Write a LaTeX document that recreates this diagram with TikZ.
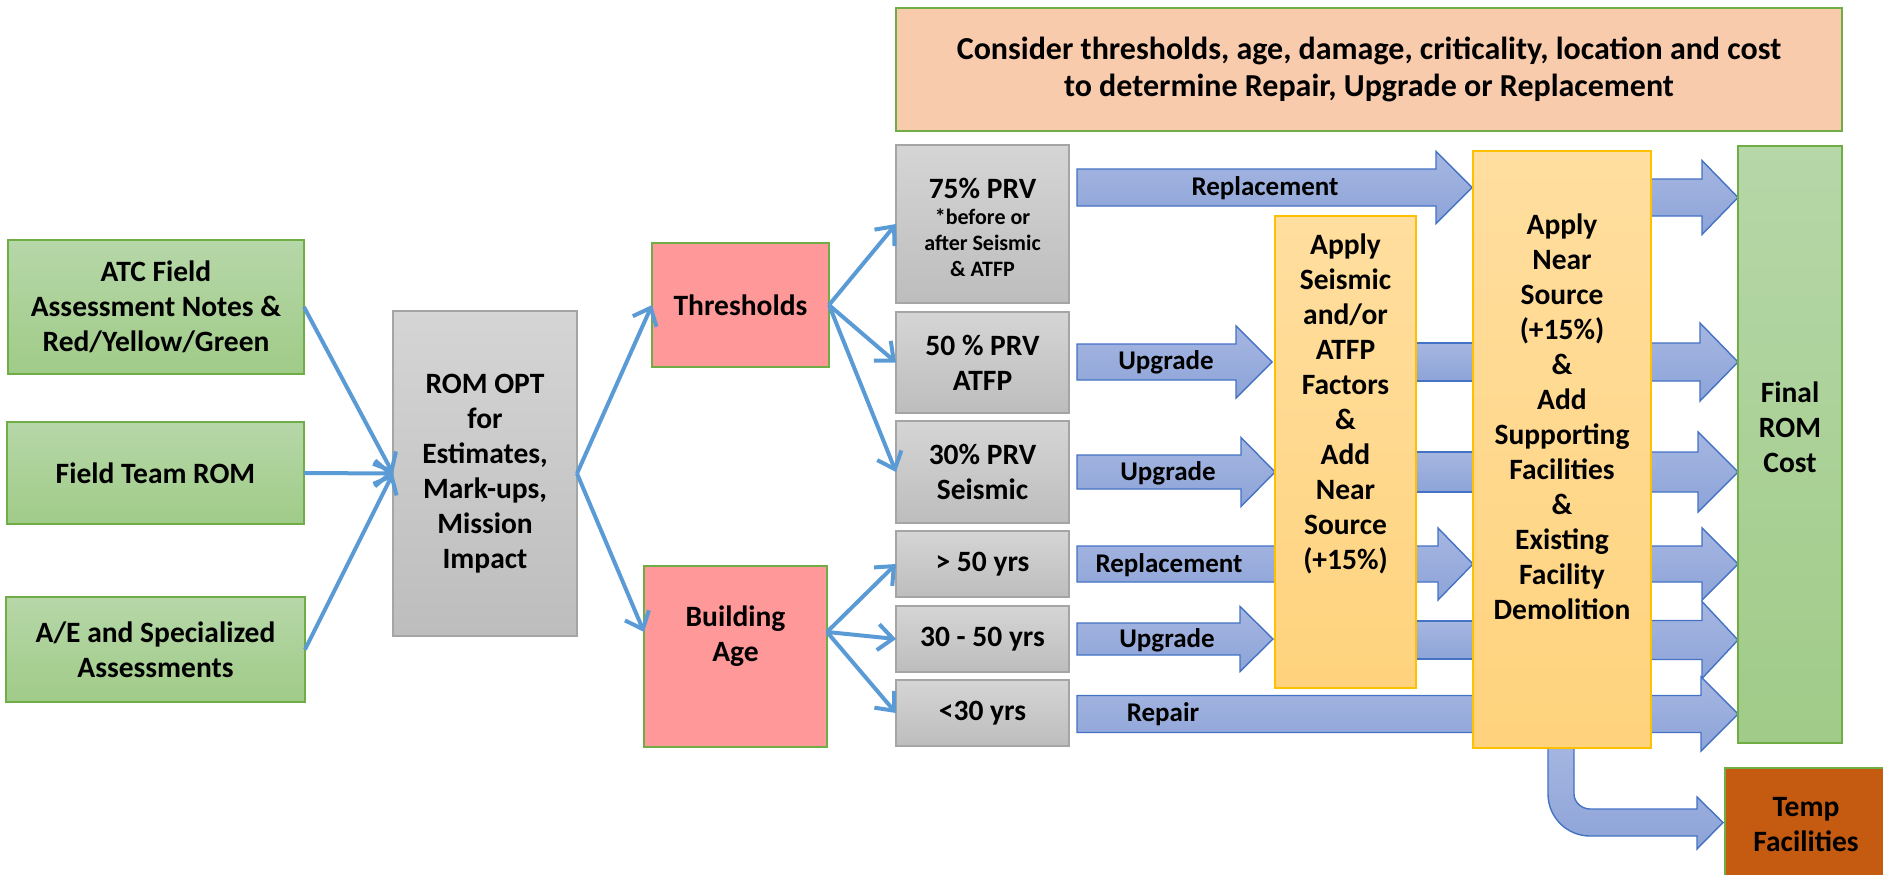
\documentclass[tikz,border=0pt]{standalone}
\usepackage{fontspec}
\setmainfont{Carlito}
\usetikzlibrary{arrows.meta}
\definecolor{gborder}{HTML}{70AD47}
\definecolor{gtop}{HTML}{B6D7A8}
\definecolor{gbot}{HTML}{A0CB88}
\definecolor{greyborder}{HTML}{A5A5A5}
\definecolor{greytop}{HTML}{D5D5D5}
\definecolor{greybot}{HTML}{BDBDBD}
\definecolor{redfill}{HTML}{FF9999}
\definecolor{oborder}{HTML}{FFC000}
\definecolor{otop}{HTML}{FFDE9F}
\definecolor{obot}{HTML}{FFD37D}
\definecolor{bannerfill}{HTML}{F8CBAD}
\definecolor{tempfill}{HTML}{C55A11}
\definecolor{linkblue}{HTML}{5B9BD5}
\definecolor{barborder}{HTML}{4472C4}
\definecolor{bartop}{HTML}{A6B6E1}
\definecolor{barbot}{HTML}{8DA4D8}
\tikzset{
  box/.style={rectangle, inner sep=0pt, outer sep=0pt, line width=1.5pt, align=center, font=\bfseries\fontsize{29.5}{35}\selectfont},
  greenbox/.style={box, draw=gborder, top color=gtop, bottom color=gbot},
  greybox/.style={box, draw=greyborder, top color=greytop, bottom color=greybot},
  redbox/.style={box, draw=gborder, fill=redfill},
  orangebox/.style={box, draw=oborder, top color=otop, bottom color=obot},
  bannerbox/.style={box, draw=gborder, fill=bannerfill, font=\bfseries\fontsize{32}{37}\selectfont},
  tempbox/.style={box, draw=gborder, fill=tempfill},
  txt/.style={inner sep=0pt, align=center, font=\bfseries\fontsize{29.5}{35}\selectfont},
  arrtxt/.style={inner sep=0pt, font=\bfseries\fontsize{27}{31}\selectfont},
  smalltxt/.style={inner sep=0pt, align=center, font=\bfseries\fontsize{22}{26}\selectfont},
  link/.style={draw=linkblue, line width=4pt, -{Straight Barb[length=15pt,width=26pt]}},
  blockarr/.style={draw=barborder, line width=1.4pt, top color=bartop, bottom color=barbot, line join=miter},
}
% x1, head base, tip, y centre, shaft half height, head half height
\newcommand\bArrow[6]{%
  \path[blockarr] (#1,#4-#5) -- (#2,#4-#5) -- (#2,#4-#6) -- (#3,#4) -- (#2,#4+#6) -- (#2,#4+#5) -- (#1,#4+#5) -- cycle;}
\begin{document}
\begin{tikzpicture}[x=1pt,y=-1pt]
\useasboundingbox (0,0) rectangle (1883,875);

% banner
\node[bannerbox, minimum width=946pt, minimum height=123pt] (banner) at (1369,69.5)
  {Consider thresholds, age, damage, criticality, location and cost\\to determine Repair, Upgrade or Replacement};

% inputs
\node[greenbox, minimum width=296pt, minimum height=134pt] (g1) at (156,307) {ATC Field\\Assessment Notes \&\\Red/Yellow/Green};
\node[greenbox, minimum width=297pt, minimum height=102pt] (g2) at (155.5,473) {Field Team ROM};
\node[greenbox, minimum width=299pt, minimum height=105pt] (g3) at (155.5,649.5) {A/E and Specialized\\Assessments};

\node[greybox, minimum width=184pt, minimum height=325pt] (rom) at (485,473.5) {ROM OPT\\for\\Estimates,\\Mark-ups,\\Mission\\Impact};

\node[redbox, minimum width=177pt, minimum height=124pt] (thr) at (740.5,305) {Thresholds};
\node[redbox, minimum width=183pt, minimum height=181pt] (age) at (735.5,656.5) {};
\node[txt] (agetxt) at (735.5,636) {Building\\Age};

% grey choice boxes
\node[greybox, minimum width=173pt, minimum height=158pt] (p75) at (982.5,224) {};
\node[txt] (p75a) at (982.5,188) {75\% PRV};
\node[smalltxt] (p75b) at (982.5,243) {*before or\\after Seismic\\\& ATFP};
\node[greybox, minimum width=173pt, minimum height=101pt] (p50) at (982.5,362.5) {50 \% PRV\\ATFP};
\node[greybox, minimum width=173pt, minimum height=102pt] (p30) at (982.5,472) {30\% PRV\\Seismic};
\node[greybox, minimum width=173pt, minimum height=66pt] (y50) at (982.5,564) {> 50 yrs};
\node[greybox, minimum width=173pt, minimum height=66pt] (y3050) at (982.5,639) {30 - 50 yrs};
\node[greybox, minimum width=173pt, minimum height=66pt] (y30) at (982.5,713) {<30 yrs};

% line connectors
\draw[link] (g1.east) -- (rom.west);
\draw[link] (g2.east) -- (rom.west);
\draw[link] (g3.east) -- (rom.west);
\draw[link] (rom.east) -- (thr.west);
\draw[link] (rom.east) -- (age.165);
\draw[link] (thr.east) -- (p75.west);
\draw[link] (thr.east) -- (p50.west);
\draw[link] (thr.east) -- (p30.west);
\draw[link] (age.15) -- (y50.west);
\draw[link] (age.15) -- (y3050.west);
\draw[link] (age.15) -- (y30.west);

% block arrows into the first column
\bArrow{1077}{1436}{1472}{187.5}{18.5}{36}
\bArrow{1077}{1236}{1272}{362}{18}{36}
\bArrow{1077}{1241}{1275}{472}{17}{34.5}
\bArrow{1077}{1438}{1473}{564}{18}{36}
\bArrow{1077}{1240}{1273}{639}{16}{32.5}
% shafts between the two orange boxes
\path[blockarr] (1405,343) rectangle (1490,381);
\path[blockarr] (1405,452) rectangle (1490,492);
\path[blockarr] (1405,621) rectangle (1490,659);
% arrows into the final box
\bArrow{1630}{1702}{1738}{197.5}{18.5}{37}
\bArrow{1630}{1700}{1738}{362}{19}{39}
\bArrow{1630}{1698}{1738}{472}{20}{40}
\bArrow{1630}{1702}{1738}{564}{18}{36}
\bArrow{1630}{1702}{1738}{640}{19.5}{38.5}
% repair arrow
\bArrow{1077}{1701}{1738}{714}{18.5}{37}
% bent arrow to temp facilities
\path[blockarr] (1548,740) -- (1548,794) .. controls (1548,817.2) and (1566.8,836) .. (1590,836)
  -- (1697,836) -- (1697,849) -- (1723,822.5) -- (1697,797) -- (1697,809) -- (1590,809)
  .. controls (1581.2,809) and (1574,801.8) .. (1574,794) -- (1574,740) -- cycle;

% arrow labels
\node[arrtxt] (l1) at (1265,188) {Replacement};
\node[arrtxt] (l2) at (1166,362) {Upgrade};
\node[arrtxt] (l3) at (1168,473) {Upgrade};
\node[arrtxt] (l4) at (1169,565) {Replacement};
\node[arrtxt] (l5) at (1167,640) {Upgrade};
\node[arrtxt] (l6) at (1163,714) {Repair};

% orange boxes and results
\node[orangebox, minimum width=141pt, minimum height=472pt] (ob1) at (1345.5,452) {};
\node[txt] (ob1t) at (1345.5,403.5) {Apply\\Seismic\\and/or\\ATFP\\Factors\\\&\\Add\\Near\\Source\\(+15\%)};
\node[orangebox, minimum width=178pt, minimum height=597pt] (ob2) at (1562,449.5) {};
\node[txt] (ob2t) at (1562,416.5) {Apply\\Near\\Source\\(+15\%)\\\&\\Add\\Supporting\\Facilities\\\&\\Existing\\Facility\\Demolition};
\node[greenbox, minimum width=104pt, minimum height=597pt] (final) at (1790,444.5) {};
\node[txt] (finalt) at (1790,427) {Final\\ROM\\Cost};
\node[tempbox, minimum width=170pt, minimum height=120pt] (temp) at (1810,828) {};
\node[txt] (tempt) at (1806,824.5) {Temp\\Facilities};
\end{tikzpicture}
\end{document}
